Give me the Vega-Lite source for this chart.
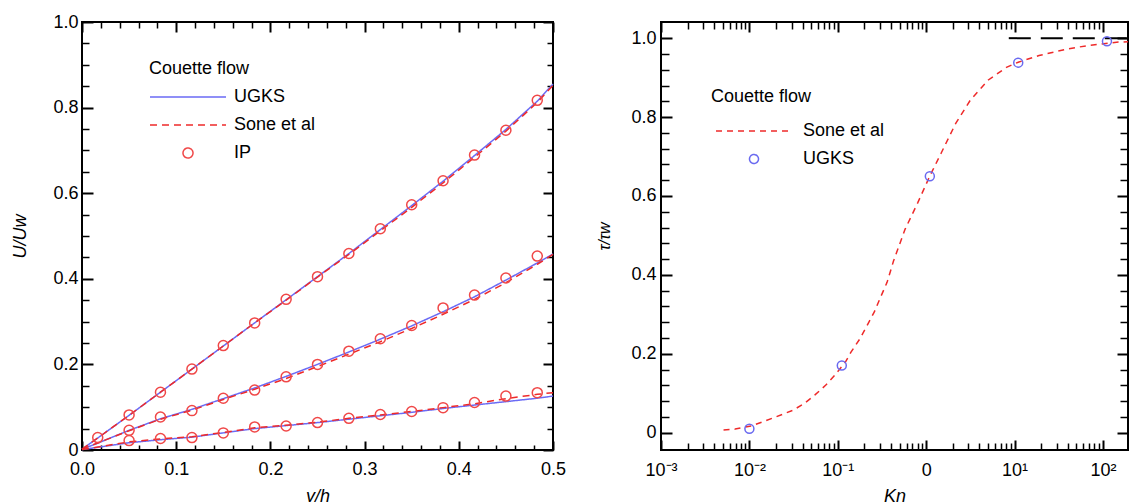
{
  "$schema": "https://vega.github.io/schema/vega-lite/v6.json",
  "background": "white",
  "padding": {"left": 10, "top": 12, "right": 0, "bottom": 0},
  "spacing": 28,
  "datasets": {
    "ugks_a": [
      {"yh": 0, "U": 0.002, "c": 1, "sa": "UGKS"}, {"yh": 0.0167, "U": 0.028, "c": 1, "sa": "UGKS"}, {"yh": 0.05, "U": 0.081, "c": 1, "sa": "UGKS"}, {"yh": 0.0833, "U": 0.135, "c": 1, "sa": "UGKS"}, {"yh": 0.1167, "U": 0.189, "c": 1, "sa": "UGKS"}, {"yh": 0.15, "U": 0.243, "c": 1, "sa": "UGKS"}, {"yh": 0.1833, "U": 0.297, "c": 1, "sa": "UGKS"}, {"yh": 0.2167, "U": 0.351, "c": 1, "sa": "UGKS"}, {"yh": 0.25, "U": 0.405, "c": 1, "sa": "UGKS"}, {"yh": 0.2833, "U": 0.459, "c": 1, "sa": "UGKS"}, {"yh": 0.3167, "U": 0.515, "c": 1, "sa": "UGKS"}, {"yh": 0.35, "U": 0.571, "c": 1, "sa": "UGKS"}, {"yh": 0.3833, "U": 0.628, "c": 1, "sa": "UGKS"}, {"yh": 0.4167, "U": 0.688, "c": 1, "sa": "UGKS"}, {"yh": 0.45, "U": 0.749, "c": 1, "sa": "UGKS"}, {"yh": 0.4833, "U": 0.815, "c": 1, "sa": "UGKS"}, {"yh": 0.5, "U": 0.855, "c": 1, "sa": "UGKS"},
      {"yh": 0, "U": 0.002, "c": 2, "sa": "UGKS"}, {"yh": 0.0167, "U": 0.016, "c": 2, "sa": "UGKS"}, {"yh": 0.05, "U": 0.046, "c": 2, "sa": "UGKS"}, {"yh": 0.0833, "U": 0.073, "c": 2, "sa": "UGKS"}, {"yh": 0.1167, "U": 0.095, "c": 2, "sa": "UGKS"}, {"yh": 0.15, "U": 0.12, "c": 2, "sa": "UGKS"}, {"yh": 0.1833, "U": 0.145, "c": 2, "sa": "UGKS"}, {"yh": 0.2167, "U": 0.172, "c": 2, "sa": "UGKS"}, {"yh": 0.25, "U": 0.2, "c": 2, "sa": "UGKS"}, {"yh": 0.2833, "U": 0.229, "c": 2, "sa": "UGKS"}, {"yh": 0.3167, "U": 0.259, "c": 2, "sa": "UGKS"}, {"yh": 0.35, "U": 0.29, "c": 2, "sa": "UGKS"}, {"yh": 0.3833, "U": 0.323, "c": 2, "sa": "UGKS"}, {"yh": 0.4167, "U": 0.358, "c": 2, "sa": "UGKS"}, {"yh": 0.45, "U": 0.397, "c": 2, "sa": "UGKS"}, {"yh": 0.4833, "U": 0.437, "c": 2, "sa": "UGKS"}, {"yh": 0.5, "U": 0.458, "c": 2, "sa": "UGKS"},
      {"yh": 0, "U": 0.001, "c": 3, "sa": "UGKS"}, {"yh": 0.05, "U": 0.017, "c": 3, "sa": "UGKS"}, {"yh": 0.0833, "U": 0.024, "c": 3, "sa": "UGKS"}, {"yh": 0.1167, "U": 0.03, "c": 3, "sa": "UGKS"}, {"yh": 0.15, "U": 0.04, "c": 3, "sa": "UGKS"}, {"yh": 0.1833, "U": 0.05, "c": 3, "sa": "UGKS"}, {"yh": 0.2167, "U": 0.057, "c": 3, "sa": "UGKS"}, {"yh": 0.25, "U": 0.064, "c": 3, "sa": "UGKS"}, {"yh": 0.2833, "U": 0.072, "c": 3, "sa": "UGKS"}, {"yh": 0.3167, "U": 0.08, "c": 3, "sa": "UGKS"}, {"yh": 0.35, "U": 0.088, "c": 3, "sa": "UGKS"}, {"yh": 0.3833, "U": 0.097, "c": 3, "sa": "UGKS"}, {"yh": 0.4167, "U": 0.105, "c": 3, "sa": "UGKS"}, {"yh": 0.45, "U": 0.113, "c": 3, "sa": "UGKS"}, {"yh": 0.4833, "U": 0.121, "c": 3, "sa": "UGKS"}, {"yh": 0.5, "U": 0.126, "c": 3, "sa": "UGKS"}
    ],
    "sone_a": [
      {"yh": 0, "U": 0.002, "c": 1, "sa": "Sone et al"}, {"yh": 0.0167, "U": 0.028, "c": 1, "sa": "Sone et al"}, {"yh": 0.05, "U": 0.081, "c": 1, "sa": "Sone et al"}, {"yh": 0.0833, "U": 0.135, "c": 1, "sa": "Sone et al"}, {"yh": 0.1167, "U": 0.189, "c": 1, "sa": "Sone et al"}, {"yh": 0.15, "U": 0.243, "c": 1, "sa": "Sone et al"}, {"yh": 0.1833, "U": 0.297, "c": 1, "sa": "Sone et al"}, {"yh": 0.2167, "U": 0.35, "c": 1, "sa": "Sone et al"}, {"yh": 0.25, "U": 0.404, "c": 1, "sa": "Sone et al"}, {"yh": 0.2833, "U": 0.457, "c": 1, "sa": "Sone et al"}, {"yh": 0.3167, "U": 0.512, "c": 1, "sa": "Sone et al"}, {"yh": 0.35, "U": 0.567, "c": 1, "sa": "Sone et al"}, {"yh": 0.3833, "U": 0.624, "c": 1, "sa": "Sone et al"}, {"yh": 0.4167, "U": 0.684, "c": 1, "sa": "Sone et al"}, {"yh": 0.45, "U": 0.745, "c": 1, "sa": "Sone et al"}, {"yh": 0.4833, "U": 0.812, "c": 1, "sa": "Sone et al"}, {"yh": 0.5, "U": 0.852, "c": 1, "sa": "Sone et al"},
      {"yh": 0, "U": 0.002, "c": 2, "sa": "Sone et al"}, {"yh": 0.05, "U": 0.045, "c": 2, "sa": "Sone et al"}, {"yh": 0.0833, "U": 0.072, "c": 2, "sa": "Sone et al"}, {"yh": 0.1167, "U": 0.093, "c": 2, "sa": "Sone et al"}, {"yh": 0.15, "U": 0.118, "c": 2, "sa": "Sone et al"}, {"yh": 0.1833, "U": 0.142, "c": 2, "sa": "Sone et al"}, {"yh": 0.2167, "U": 0.167, "c": 2, "sa": "Sone et al"}, {"yh": 0.25, "U": 0.195, "c": 2, "sa": "Sone et al"}, {"yh": 0.2833, "U": 0.224, "c": 2, "sa": "Sone et al"}, {"yh": 0.3167, "U": 0.253, "c": 2, "sa": "Sone et al"}, {"yh": 0.35, "U": 0.284, "c": 2, "sa": "Sone et al"}, {"yh": 0.3833, "U": 0.317, "c": 2, "sa": "Sone et al"}, {"yh": 0.4167, "U": 0.352, "c": 2, "sa": "Sone et al"}, {"yh": 0.45, "U": 0.391, "c": 2, "sa": "Sone et al"}, {"yh": 0.4833, "U": 0.434, "c": 2, "sa": "Sone et al"}, {"yh": 0.5, "U": 0.457, "c": 2, "sa": "Sone et al"},
      {"yh": 0, "U": 0.001, "c": 3, "sa": "Sone et al"}, {"yh": 0.05, "U": 0.019, "c": 3, "sa": "Sone et al"}, {"yh": 0.0833, "U": 0.026, "c": 3, "sa": "Sone et al"}, {"yh": 0.1167, "U": 0.031, "c": 3, "sa": "Sone et al"}, {"yh": 0.15, "U": 0.041, "c": 3, "sa": "Sone et al"}, {"yh": 0.1833, "U": 0.052, "c": 3, "sa": "Sone et al"}, {"yh": 0.2167, "U": 0.058, "c": 3, "sa": "Sone et al"}, {"yh": 0.25, "U": 0.065, "c": 3, "sa": "Sone et al"}, {"yh": 0.2833, "U": 0.074, "c": 3, "sa": "Sone et al"}, {"yh": 0.3167, "U": 0.082, "c": 3, "sa": "Sone et al"}, {"yh": 0.35, "U": 0.09, "c": 3, "sa": "Sone et al"}, {"yh": 0.3833, "U": 0.099, "c": 3, "sa": "Sone et al"}, {"yh": 0.4167, "U": 0.108, "c": 3, "sa": "Sone et al"}, {"yh": 0.45, "U": 0.12, "c": 3, "sa": "Sone et al"}, {"yh": 0.4833, "U": 0.13, "c": 3, "sa": "Sone et al"}, {"yh": 0.5, "U": 0.134, "c": 3, "sa": "Sone et al"}
    ],
    "ip_a": [
      {"yh": 0.0167, "U": 0.029, "sa": "IP"}, {"yh": 0.05, "U": 0.082, "sa": "IP"}, {"yh": 0.0833, "U": 0.135, "sa": "IP"}, {"yh": 0.1167, "U": 0.189, "sa": "IP"}, {"yh": 0.15, "U": 0.244, "sa": "IP"}, {"yh": 0.1833, "U": 0.297, "sa": "IP"}, {"yh": 0.2167, "U": 0.352, "sa": "IP"}, {"yh": 0.25, "U": 0.405, "sa": "IP"}, {"yh": 0.2833, "U": 0.459, "sa": "IP"}, {"yh": 0.3167, "U": 0.517, "sa": "IP"}, {"yh": 0.35, "U": 0.573, "sa": "IP"}, {"yh": 0.3833, "U": 0.629, "sa": "IP"}, {"yh": 0.4167, "U": 0.689, "sa": "IP"}, {"yh": 0.45, "U": 0.747, "sa": "IP"}, {"yh": 0.4833, "U": 0.817, "sa": "IP"},
      {"yh": 0.05, "U": 0.046, "sa": "IP"}, {"yh": 0.0833, "U": 0.077, "sa": "IP"}, {"yh": 0.1167, "U": 0.092, "sa": "IP"}, {"yh": 0.15, "U": 0.121, "sa": "IP"}, {"yh": 0.1833, "U": 0.14, "sa": "IP"}, {"yh": 0.2167, "U": 0.171, "sa": "IP"}, {"yh": 0.25, "U": 0.2, "sa": "IP"}, {"yh": 0.2833, "U": 0.231, "sa": "IP"}, {"yh": 0.3167, "U": 0.26, "sa": "IP"}, {"yh": 0.35, "U": 0.291, "sa": "IP"}, {"yh": 0.3833, "U": 0.332, "sa": "IP"}, {"yh": 0.4167, "U": 0.362, "sa": "IP"}, {"yh": 0.45, "U": 0.402, "sa": "IP"}, {"yh": 0.4833, "U": 0.453, "sa": "IP"},
      {"yh": 0.05, "U": 0.022, "sa": "IP"}, {"yh": 0.0833, "U": 0.027, "sa": "IP"}, {"yh": 0.1167, "U": 0.029, "sa": "IP"}, {"yh": 0.15, "U": 0.04, "sa": "IP"}, {"yh": 0.1833, "U": 0.054, "sa": "IP"}, {"yh": 0.2167, "U": 0.056, "sa": "IP"}, {"yh": 0.25, "U": 0.064, "sa": "IP"}, {"yh": 0.2833, "U": 0.074, "sa": "IP"}, {"yh": 0.3167, "U": 0.083, "sa": "IP"}, {"yh": 0.35, "U": 0.09, "sa": "IP"}, {"yh": 0.3833, "U": 0.099, "sa": "IP"}, {"yh": 0.4167, "U": 0.111, "sa": "IP"}, {"yh": 0.45, "U": 0.126, "sa": "IP"}, {"yh": 0.4833, "U": 0.134, "sa": "IP"}
    ],
    "sone_b": [
      {"Kn": 0.0051, "tau": 0.007, "sb": "Sone et al"}, {"Kn": 0.0069, "tau": 0.009, "sb": "Sone et al"}, {"Kn": 0.0105, "tau": 0.017, "sb": "Sone et al"}, {"Kn": 0.014, "tau": 0.027, "sb": "Sone et al"}, {"Kn": 0.02, "tau": 0.04, "sb": "Sone et al"}, {"Kn": 0.0312, "tau": 0.057, "sb": "Sone et al"}, {"Kn": 0.0413, "tau": 0.073, "sb": "Sone et al"}, {"Kn": 0.0548, "tau": 0.095, "sb": "Sone et al"}, {"Kn": 0.0728, "tau": 0.12, "sb": "Sone et al"}, {"Kn": 0.092, "tau": 0.145, "sb": "Sone et al"}, {"Kn": 0.122, "tau": 0.179, "sb": "Sone et al"}, {"Kn": 0.141, "tau": 0.204, "sb": "Sone et al"}, {"Kn": 0.178, "tau": 0.238, "sb": "Sone et al"}, {"Kn": 0.215, "tau": 0.272, "sb": "Sone et al"}, {"Kn": 0.259, "tau": 0.306, "sb": "Sone et al"}, {"Kn": 0.299, "tau": 0.339, "sb": "Sone et al"}, {"Kn": 0.361, "tau": 0.381, "sb": "Sone et al"}, {"Kn": 0.427, "tau": 0.435, "sb": "Sone et al"}, {"Kn": 0.578, "tau": 0.516, "sb": "Sone et al"}, {"Kn": 0.804, "tau": 0.583, "sb": "Sone et al"}, {"Kn": 1.096, "tau": 0.65, "sb": "Sone et al"}, {"Kn": 1.48, "tau": 0.709, "sb": "Sone et al"}, {"Kn": 2.16, "tau": 0.784, "sb": "Sone et al"}, {"Kn": 3.16, "tau": 0.843, "sb": "Sone et al"}, {"Kn": 5.05, "tau": 0.894, "sb": "Sone et al"}, {"Kn": 8.09, "tau": 0.926, "sb": "Sone et al"}, {"Kn": 11.0, "tau": 0.939, "sb": "Sone et al"}, {"Kn": 18.9, "tau": 0.956, "sb": "Sone et al"}, {"Kn": 40.2, "tau": 0.973, "sb": "Sone et al"}, {"Kn": 70.6, "tau": 0.982, "sb": "Sone et al"}, {"Kn": 150, "tau": 0.99, "sb": "Sone et al"}, {"Kn": 192, "tau": 0.991, "sb": "Sone et al"}
    ],
    "ugks_b": [
      {"Kn": 0.01, "tau": 0.01, "sb": "UGKS"}, {"Kn": 0.111, "tau": 0.17, "sb": "UGKS"}, {"Kn": 1.1, "tau": 0.65, "sb": "UGKS"}, {"Kn": 11.0, "tau": 0.938, "sb": "UGKS"}, {"Kn": 111, "tau": 0.992, "sb": "UGKS"}
    ],
    "free_b": [
      {"Kn": 8.6, "tau": 1.0}, {"Kn": 192, "tau": 1.0}
    ]
  },
  "hconcat": [
    {
      "width": 471,
      "height": 428,
      "layer": [
        {
          "data": {"name": "ugks_a"},
          "mark": {"type": "line", "strokeWidth": 1.5},
          "encoding": {
            "x": {"field": "yh", "type": "quantitative", "scale": {"domain": [0, 0.5], "nice": false, "zero": false},
              "axis": {"orient": "bottom", "values": [0, 0.1, 0.2, 0.3, 0.4, 0.5], "ticks": false, "labelPadding": 10, "labelFlush": false, "labelOverlap": false, "title": "y/h", "titlePadding": 9,
                "grid": true, "gridDash": [10, 3000], "gridWidth": 2, "gridColor": "black", "gridOpacity": 1}},
            "y": {"field": "U", "type": "quantitative", "scale": {"domain": [0, 1], "nice": false, "zero": false},
              "axis": {"orient": "left", "values": [0, 0.2, 0.4, 0.6, 0.8, 1], "ticks": false, "labelPadding": 4, "labelFlush": false, "labelOverlap": false, "labelExpr": "datum.value == 0 ? '0' : format(datum.value, '.1f')", "title": "U/Uw", "titlePadding": 23,
                "grid": true, "gridDash": [11, 3000], "gridWidth": 2, "gridColor": "black", "gridOpacity": 1}},
            "detail": {"field": "c", "type": "nominal"},
            "color": {"field": "sa", "type": "nominal",
              "scale": {"domain": ["UGKS", "Sone et al", "IP"], "range": ["#6b6bf5", "#ee2a2a", "#f04848"]},
              "legend": {"title": "Couette flow", "orient": "none", "legendX": 67, "legendY": 38, "symbolOffset": 30, "labelOffset": 37, "titlePadding": 10, "rowPadding": 10,
                "encode": {"symbols": {"update": {"fill": {"value": "transparent"}}}}}},
            "strokeDash": {"field": "sa", "type": "nominal",
              "scale": {"domain": ["UGKS", "Sone et al", "IP"], "range": [[1, 0], [7, 5], [1, 0]]}}
          }
        },
        {
          "data": {"name": "sone_a"},
          "mark": {"type": "line", "strokeWidth": 1.5},
          "encoding": {
            "x": {"field": "yh", "type": "quantitative", "scale": {"domain": [0, 0.5], "nice": false, "zero": false},
              "axis": {"orient": "bottom", "values": [0.02, 0.04, 0.06, 0.08, 0.12, 0.14, 0.16, 0.18, 0.22, 0.24, 0.26, 0.28, 0.32, 0.34, 0.36, 0.38, 0.42, 0.44, 0.46, 0.48], "labels": false, "ticks": false, "title": null,
                "grid": true, "gridDash": [6, 3000], "gridWidth": 1.5, "gridColor": "black", "gridOpacity": 1}},
            "y": {"field": "U", "type": "quantitative", "scale": {"domain": [0, 1], "nice": false, "zero": false},
              "axis": {"orient": "left", "values": [0.05, 0.1, 0.15, 0.25, 0.3, 0.35, 0.45, 0.5, 0.55, 0.65, 0.7, 0.75, 0.85, 0.9, 0.95], "labels": false, "ticks": false, "title": null,
                "grid": true, "gridDash": [7, 3000], "gridWidth": 1.5, "gridColor": "black", "gridOpacity": 1}},
            "detail": {"field": "c", "type": "nominal"},
            "color": {"field": "sa", "type": "nominal",
              "scale": {"domain": ["UGKS", "Sone et al", "IP"], "range": ["#6b6bf5", "#ee2a2a", "#f04848"]}},
            "strokeDash": {"field": "sa", "type": "nominal",
              "scale": {"domain": ["UGKS", "Sone et al", "IP"], "range": [[1, 0], [7, 5], [1, 0]]}}
          }
        },
        {
          "data": {"name": "ip_a"},
          "mark": {"type": "point", "filled": false, "strokeWidth": 1.5, "size": 100, "opacity": 1},
          "encoding": {
            "x": {"field": "yh", "type": "quantitative", "scale": {"domain": [0, 0.5], "nice": false, "zero": false},
              "axis": {"orient": "top", "values": [0, 0.1, 0.2, 0.3, 0.4, 0.5], "labels": false, "ticks": false, "title": null,
                "grid": true, "gridDash": [9, 3000], "gridWidth": 2, "gridColor": "black", "gridOpacity": 1}},
            "y": {"field": "U", "type": "quantitative", "scale": {"domain": [0, 1], "nice": false, "zero": false},
              "axis": {"orient": "right", "values": [0, 0.2, 0.4, 0.6, 0.8, 1], "labels": false, "ticks": false, "title": null,
                "grid": true, "gridDash": [10, 3000], "gridWidth": 2, "gridColor": "black", "gridOpacity": 1}},
            "color": {"field": "sa", "type": "nominal",
              "scale": {"domain": ["UGKS", "Sone et al", "IP"], "range": ["#6b6bf5", "#ee2a2a", "#f04848"]}},
            "shape": {"field": "sa", "type": "nominal",
              "scale": {"domain": ["UGKS", "Sone et al", "IP"], "range": ["M-7.6,0H7.6", "M-7.6,0H7.6", "M-1,0A1,1,0,1,1,1,0A1,1,0,1,1,-1,0Z"]}}
          }
        },
        {
          "data": {"name": "ip_a"},
          "mark": {"type": "point", "opacity": 0},
          "encoding": {
            "x": {"field": "yh", "type": "quantitative", "scale": {"domain": [0, 0.5], "nice": false, "zero": false},
              "axis": {"orient": "top", "values": [0.02, 0.04, 0.06, 0.08, 0.12, 0.14, 0.16, 0.18, 0.22, 0.24, 0.26, 0.28, 0.32, 0.34, 0.36, 0.38, 0.42, 0.44, 0.46, 0.48], "labels": false, "ticks": false, "title": null,
                "grid": true, "gridDash": [5, 3000], "gridWidth": 1.5, "gridColor": "black", "gridOpacity": 1}},
            "y": {"field": "U", "type": "quantitative", "scale": {"domain": [0, 1], "nice": false, "zero": false},
              "axis": {"orient": "right", "values": [0.05, 0.1, 0.15, 0.25, 0.3, 0.35, 0.45, 0.5, 0.55, 0.65, 0.7, 0.75, 0.85, 0.9, 0.95], "labels": false, "ticks": false, "title": null,
                "grid": true, "gridDash": [6, 3000], "gridWidth": 1.5, "gridColor": "black", "gridOpacity": 1}}
          }
        }
      ],
      "resolve": {"axis": {"x": "independent", "y": "independent"}}
    },
    {
      "width": 467,
      "height": 428,
      "layer": [
        {
          "data": {"name": "sone_b"},
          "mark": {"type": "line", "strokeWidth": 1.5},
          "encoding": {
            "x": {"field": "Kn", "type": "quantitative", "scale": {"type": "log", "domain": [0.001, 192], "nice": false},
              "axis": {"orient": "bottom", "values": [0.001, 0.01, 0.1, 1, 10, 100], "ticks": false, "labelPadding": 11, "labelFlush": false, "labelOverlap": false,
                "labelExpr": "datum.value < 0.005 ? '10⁻³' : datum.value < 0.05 ? '10⁻²' : datum.value < 0.5 ? '10⁻¹' : datum.value < 5 ? '0' : datum.value < 50 ? '10¹' : '10²'",
                "title": "Kn", "titlePadding": 8,
                "grid": true, "gridDash": [10, 3000], "gridWidth": 2, "gridColor": "black", "gridOpacity": 1}},
            "y": {"field": "tau", "type": "quantitative", "scale": {"domain": [-0.044, 1.041], "nice": false, "zero": false},
              "axis": {"orient": "left", "values": [0, 0.2, 0.4, 0.6, 0.8, 1], "ticks": false, "labelPadding": 5, "labelFlush": false, "labelOverlap": false, "labelExpr": "datum.value == 0 ? '0' : format(datum.value, '.1f')", "title": "τ/τw", "titleFontSize": 16, "titlePadding": 18,
                "grid": true, "gridDash": [11, 3000], "gridWidth": 2, "gridColor": "black", "gridOpacity": 1}},
            "color": {"field": "sb", "type": "nominal",
              "scale": {"domain": ["Sone et al", "UGKS"], "range": ["#ee2a2a", "#6a6af0"]},
              "legend": {"title": "Couette flow", "orient": "none", "legendX": 50, "legendY": 66, "symbolOffset": 34, "labelOffset": 40, "titlePadding": 16, "rowPadding": 10,
                "encode": {"symbols": {"update": {"fill": {"value": "transparent"}}}}}},
            "strokeDash": {"field": "sb", "type": "nominal",
              "scale": {"domain": ["Sone et al", "UGKS"], "range": [[6, 5], [1, 0]]}}
          }
        },
        {
          "data": {"name": "free_b"},
          "mark": {"type": "line", "color": "black", "strokeWidth": 2, "strokeDash": [22, 10]},
          "encoding": {
            "x": {"field": "Kn", "type": "quantitative", "scale": {"type": "log", "domain": [0.001, 192], "nice": false},
              "axis": {"orient": "bottom", "values": [0.002, 0.003, 0.004, 0.005, 0.006, 0.007, 0.008, 0.009, 0.02, 0.03, 0.04, 0.05, 0.06, 0.07, 0.08, 0.09, 0.2, 0.3, 0.4, 0.5, 0.6, 0.7, 0.8, 0.9, 2, 3, 4, 5, 6, 7, 8, 9, 20, 30, 40, 50, 60, 70, 80, 90], "labels": false, "ticks": false, "title": null,
                "grid": true, "gridDash": [7, 3000], "gridWidth": 1.5, "gridColor": "black", "gridOpacity": 1}},
            "y": {"field": "tau", "type": "quantitative", "scale": {"domain": [-0.044, 1.041], "nice": false, "zero": false},
              "axis": {"orient": "left", "values": [0.04, 0.08, 0.12, 0.16, 0.24, 0.28, 0.32, 0.36, 0.44, 0.48, 0.52, 0.56, 0.64, 0.68, 0.72, 0.76, 0.84, 0.88, 0.92, 0.96], "labels": false, "ticks": false, "title": null,
                "grid": true, "gridDash": [8, 3000], "gridWidth": 1.5, "gridColor": "black", "gridOpacity": 1}}
          }
        },
        {
          "data": {"name": "ugks_b"},
          "mark": {"type": "point", "filled": false, "strokeWidth": 1.5, "size": 100, "opacity": 1},
          "encoding": {
            "x": {"field": "Kn", "type": "quantitative", "scale": {"type": "log", "domain": [0.001, 192], "nice": false},
              "axis": {"orient": "top", "values": [0.001, 0.01, 0.1, 1, 10, 100], "labels": false, "ticks": false, "title": null,
                "grid": true, "gridDash": [10, 3000], "gridWidth": 2, "gridColor": "black", "gridOpacity": 1}},
            "y": {"field": "tau", "type": "quantitative", "scale": {"domain": [-0.044, 1.041], "nice": false, "zero": false},
              "axis": {"orient": "right", "values": [0, 0.2, 0.4, 0.6, 0.8, 1], "labels": false, "ticks": false, "title": null,
                "grid": true, "gridDash": [11, 3000], "gridWidth": 2, "gridColor": "black", "gridOpacity": 1}},
            "color": {"field": "sb", "type": "nominal",
              "scale": {"domain": ["Sone et al", "UGKS"], "range": ["#ee2a2a", "#6a6af0"]}},
            "shape": {"field": "sb", "type": "nominal",
              "scale": {"domain": ["Sone et al", "UGKS"], "range": ["M-7.6,0H7.6", "M-0.9,0A0.9,0.9,0,1,1,0.9,0A0.9,0.9,0,1,1,-0.9,0Z"]}}
          }
        },
        {
          "data": {"name": "ugks_b"},
          "mark": {"type": "point", "opacity": 0},
          "encoding": {
            "x": {"field": "Kn", "type": "quantitative", "scale": {"type": "log", "domain": [0.001, 192], "nice": false},
              "axis": {"orient": "top", "values": [0.002, 0.003, 0.004, 0.005, 0.006, 0.007, 0.008, 0.009, 0.02, 0.03, 0.04, 0.05, 0.06, 0.07, 0.08, 0.09, 0.2, 0.3, 0.4, 0.5, 0.6, 0.7, 0.8, 0.9, 2, 3, 4, 5, 6, 7, 8, 9, 20, 30, 40, 50, 60, 70, 80, 90], "labels": false, "ticks": false, "title": null,
                "grid": true, "gridDash": [7, 3000], "gridWidth": 1.5, "gridColor": "black", "gridOpacity": 1}},
            "y": {"field": "tau", "type": "quantitative", "scale": {"domain": [-0.044, 1.041], "nice": false, "zero": false},
              "axis": {"orient": "right", "values": [0.04, 0.08, 0.12, 0.16, 0.24, 0.28, 0.32, 0.36, 0.44, 0.48, 0.52, 0.56, 0.64, 0.68, 0.72, 0.76, 0.84, 0.88, 0.92, 0.96], "labels": false, "ticks": false, "title": null,
                "grid": true, "gridDash": [8, 3000], "gridWidth": 1.5, "gridColor": "black", "gridOpacity": 1}}
          }
        }
      ],
      "resolve": {"axis": {"x": "independent", "y": "independent"}}
    }
  ],
  "resolve": {
    "scale": {"color": "independent", "shape": "independent", "strokeDash": "independent"},
    "legend": {"color": "independent", "shape": "independent", "strokeDash": "independent"}
  },
  "config": {
    "font": "Liberation Sans",
    "view": {"stroke": "black", "strokeWidth": 2},
    "axis": {"domain": false, "labelFontSize": 18, "titleFontSize": 18, "titleFontWeight": "normal", "titleFontStyle": "italic", "labelColor": "black", "titleColor": "black", "tickColor": "black"},
    "legend": {"titleFontSize": 18, "titleFontWeight": "normal", "labelFontSize": 18, "titleColor": "black", "labelColor": "black", "symbolSize": 100, "symbolStrokeWidth": 1.5, "padding": 0, "titleAnchor": "start", "labelLimit": 300}
  }
}
